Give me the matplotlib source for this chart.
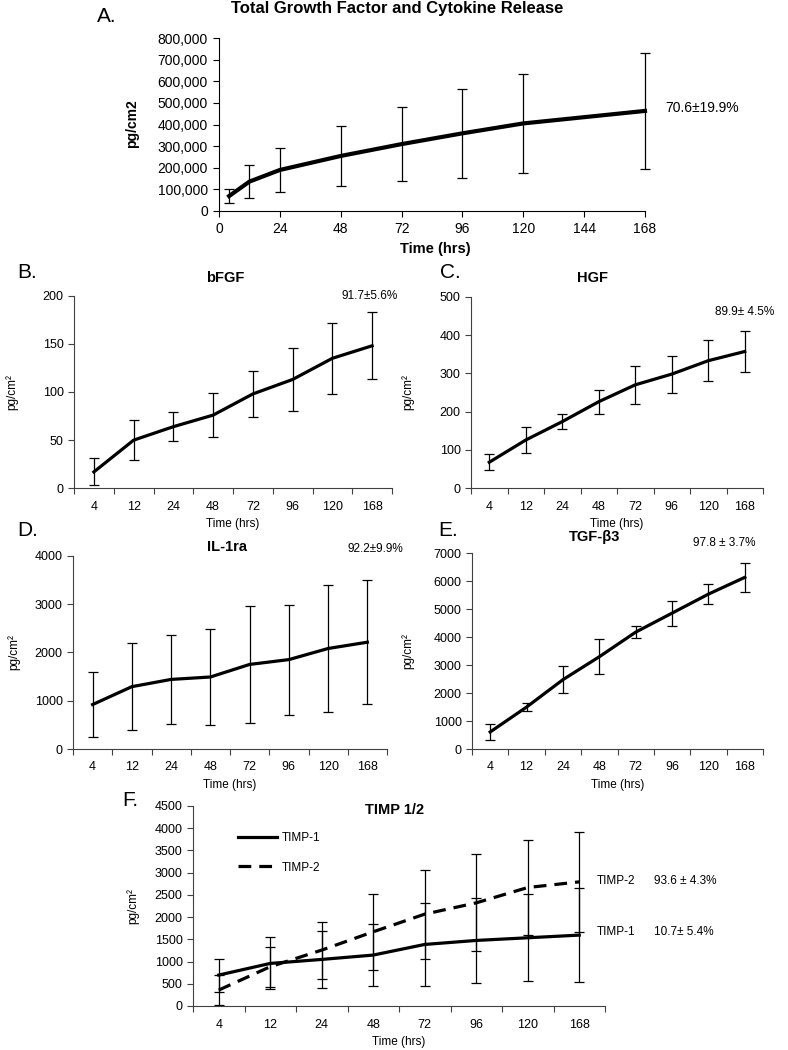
import numpy as np
import matplotlib
matplotlib.use("Agg")
from matplotlib import pyplot as plt
from matplotlib.ticker import FuncFormatter, FixedLocator, NullFormatter
from matplotlib.lines import Line2D

plt.rcParams['font.family'] = ['Liberation Sans', 'DejaVu Sans']

# ---- data ----
hours = [4, 12, 24, 48, 72, 96, 120, 168]
hour_labels = ['4', '12', '24', '48', '72', '96', '120', '168']

total_mean = [68000, 135000, 189000, 254000, 309000, 359000, 405000, 463000]
total_err = [32000, 75000, 101000, 138000, 173000, 206000, 230000, 270000]

bfgf_mean = [17, 50, 64, 76, 98, 113, 135, 148]
bfgf_err = [14, 21, 15, 23, 24, 33, 37, 35]

hgf_mean = [68, 126, 174, 226, 270, 298, 333, 357]
hgf_err = [21, 35, 19, 31, 49, 48, 53, 53]

il1ra_mean = [920, 1290, 1440, 1490, 1750, 1850, 2080, 2210]
il1ra_err = [665, 900, 925, 1000, 1210, 1140, 1310, 1280]

tgfb3_mean = [610, 1500, 2480, 3300, 4180, 4860, 5540, 6140]
tgfb3_err = [300, 150, 475, 625, 215, 450, 360, 520]

timp1_mean = [696, 958, 1048, 1146, 1385, 1475, 1535, 1595]
timp1_err = [370, 585, 650, 690, 930, 960, 980, 1050]
timp2_mean = [359, 884, 1258, 1670, 2067, 2321, 2666, 2793]
timp2_err = [330, 450, 640, 850, 1000, 1090, 1060, 1120]

W, H = 788, 1050


def rect(l, t, r, b):
    return [l / W, 1 - b / H, (r - l) / W, (b - t) / H]


def ftext(x, y, s, **kw):
    kw.setdefault('va', 'center')
    fig.text(x / W, 1 - y / H, s, **kw)


def unclip(ax):
    # let the error bars run past the axes edge like in the original
    for ch in ax.get_children():
        if ch.__class__.__name__ in ('Line2D', 'LineCollection'):
            ch.set_clip_on(False)


fig = plt.figure(figsize=(W / 100, H / 100), dpi=100)

spine_col = '#404040'


def cat_panel(box, mean, err, ymax, ystep, title, note, note_xy, title_xy,
              letter, letter_xy, ylab_x, xlab_y):
    ax = fig.add_axes(rect(*box))
    x = np.arange(len(hours))
    ax.errorbar(x, mean, yerr=err, color='black', lw=2.3, elinewidth=0.9,
                capsize=3.5, capthick=0.9)
    ax.set_xlim(-0.5, len(hours) - 0.5)
    ax.set_ylim(0, ymax)
    ax.set_yticks(np.arange(0, ymax + 1, ystep))
    ax.xaxis.set_major_locator(FixedLocator(np.arange(-0.5, len(hours), 1.0)))
    ax.xaxis.set_major_formatter(NullFormatter())
    ax.xaxis.set_minor_locator(FixedLocator(x))
    ax.set_xticklabels(hour_labels, minor=True)
    ax.tick_params(axis='x', which='minor', length=0, labelsize=9, pad=9)
    ax.tick_params(axis='x', which='major', length=4, direction='out', color=spine_col)
    ax.tick_params(axis='y', length=4, direction='out', labelsize=9, color=spine_col)
    for s in ['top', 'right']:
        ax.spines[s].set_visible(False)
    for s in ['left', 'bottom']:
        ax.spines[s].set_color(spine_col)
    l, t, r, b = box
    ftext((l + r) / 2, xlab_y, 'Time (hrs)', ha='center', fontsize=8.5)
    ftext(ylab_x, (t + b) / 2, 'pg/cm²', ha='center', rotation=90, fontsize=8.5)
    ftext(title_xy[0], title_xy[1], title, ha='center', fontsize=10.5, fontweight='bold')
    if note:
        ftext(note_xy[0], note_xy[1], note, ha='left', fontsize=8.5)
    ftext(letter_xy[0], letter_xy[1], letter, ha='left', fontsize=15)
    unclip(ax)
    return ax


# ---- A: total release ----
axA = fig.add_axes(rect(219, 38.3, 645, 210.7))
axA.errorbar(hours, total_mean, yerr=total_err, color='black', lw=3.0,
             elinewidth=0.9, capsize=3.5, capthick=0.9)
axA.set_xlim(0, 168)
axA.set_ylim(0, 800000)
axA.set_xticks(np.arange(0, 169, 24))
axA.set_yticks(np.arange(0, 800001, 100000))
axA.yaxis.set_major_formatter(FuncFormatter(lambda v, p: '{:,.0f}'.format(v)))
for s in ['top', 'right']:
    axA.spines[s].set_visible(False)
axA.tick_params(direction='out', length=4, labelsize=10, pad=4)
unclip(axA)
ftext(397, 8, 'Total Growth Factor and Cytokine Release', ha='center',
      fontsize=12, fontweight='bold')
ftext(97, 16, 'A.', ha='left', fontsize=15)
ftext(132, 124, 'pg/cm2', ha='center', rotation=90, fontsize=10, fontweight='bold')
ftext(435, 249, 'Time (hrs)', ha='center', fontsize=10.5, fontweight='bold')
ftext(665, 108, '70.6±19.9%', ha='left', fontsize=10)

# ---- B to E ----
cat_panel((74, 295.7, 392, 488.3), bfgf_mean, bfgf_err, 200, 50, 'bFGF',
          '91.7±5.6%', (341, 296), (225, 278), 'B.', (17, 273), 12, 524)
cat_panel((471, 296.7, 763, 488.3), hgf_mean, hgf_err, 500, 100, 'HGF',
          '89.9± 4.5%', (715, 312), (592, 278), 'C.', (440, 273), 408, 524)
cat_panel((73, 555.7, 387, 749), il1ra_mean, il1ra_err, 4000, 1000, 'IL-1ra',
          '92.2±9.9%', (347, 549), (227, 547), 'D.', (17, 531), 14, 785)
cat_panel((472, 553.3, 763, 749), tgfb3_mean, tgfb3_err, 7000, 1000, 'TGF-β3',
          '97.8 ± 3.7%', (693, 543), (595, 537), 'E.', (438, 531), 408, 785)

# ---- F: TIMP 1/2 ----
axF = cat_panel((193, 806, 605, 1006), timp1_mean, timp1_err, 4500, 500, 'TIMP 1/2',
                '', (0, 0), (395, 810), 'F.', (122, 801), 133, 1042)
xF = np.arange(len(hours))
eb2 = axF.errorbar(xF, timp2_mean, yerr=timp2_err, color='black', lw=2.3,
                   elinewidth=0.9, capsize=3.5, capthick=0.9)
eb2[0].set_linestyle((0, (4, 2.5)))
unclip(axF)
handles = [Line2D([], [], color='black', lw=2.3),
           Line2D([], [], color='black', lw=2.3, ls=(0, (4, 2.5)))]
axF.legend(handles, ['TIMP-1', 'TIMP-2'], loc='upper left', frameon=False,
           bbox_to_anchor=(232 / W, 1 - 826 / H), bbox_transform=fig.transFigure,
           fontsize=8.5, handlelength=3.3, handletextpad=0.4, labelspacing=1.5,
           borderpad=0)
ftext(597, 881, 'TIMP-2', ha='left', fontsize=8.5)
ftext(654, 881, '93.6 ± 4.3%', ha='left', fontsize=8.5)
ftext(597, 932, 'TIMP-1', ha='left', fontsize=8.5)
ftext(654, 932, '10.7± 5.4%', ha='left', fontsize=8.5)

fig.savefig('out.png', dpi=100)
